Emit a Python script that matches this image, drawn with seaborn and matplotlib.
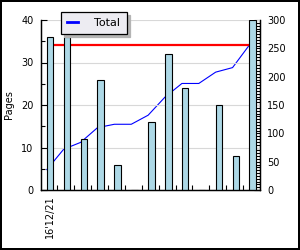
import numpy as np
import pandas as pd
import matplotlib
matplotlib.use("Agg")
import matplotlib.pyplot as plt
from matplotlib.lines import Line2D
from matplotlib.ticker import MultipleLocator
import seaborn as sns

# ---- data ----
tick_labels = ["16'12/21", "", "", "", "", "", "", "", "", "", "", "", ""]
pages = [36, 36, 12, 26, 6, 0, 16, 32, 24, 0, 20, 8, 40]
series_name = "Total"
y_label = "Pages"

plt.rcParams["font.family"] = ["DejaVu Sans"]
plt.rcParams["font.size"] = 7

n = len(pages)
idx = np.arange(n)
cum = np.cumsum(pages)
total = cum[-1]
df = pd.DataFrame({"idx": idx, "pages": pages})

W, H = 300, 250
fig = plt.figure(figsize=(3, 2.5), dpi=100, linewidth=1.5, edgecolor="black")
L, R, T, B = 40.5, 260, 20, 190
ax = fig.add_axes([L / W, 1 - B / H, (R - L) / W, (B - T) / H])
ax2 = ax.twinx()

# bars on primary axis
sns.barplot(data=df, x="idx", y="pages", ax=ax, color="#ADD8E6", saturation=1,
            edgecolor="black", linewidth=0.8, width=0.39)

# cumulative line + total line on secondary axis
bw = 0.39
ax2.plot(idx - bw / 2, cum, color="blue", lw=0.8)
ax2.hlines(total, 0, n - 1, color="red", lw=1.6)

ax.set_zorder(2)
ax2.set_zorder(1)
ax.patch.set_visible(False)

ax.set_xlim(-0.57, n - 0.57)
ax.set_ylim(0, 40)
ax2.set_ylim(0, 300)

ax.set_xticks(idx)
ax.set_xticklabels(tick_labels, rotation=90, fontsize=7)
ax.set_xticks(idx[:-1] + 0.43, minor=True)
ax.tick_params(axis="x", which="major", length=0, pad=4)
ax.tick_params(axis="x", which="minor", direction="in", length=3.5, width=0.8)
ax.set_xlabel("")

ax.yaxis.set_major_locator(MultipleLocator(10))
ax.yaxis.set_minor_locator(MultipleLocator(5))
ax.tick_params(axis="y", which="both", direction="in", width=0.8, pad=5, labelsize=7)
ax.tick_params(axis="y", which="major", length=4)
ax.tick_params(axis="y", which="minor", length=3)

ax2.yaxis.set_major_locator(MultipleLocator(50))
ax2.yaxis.set_minor_locator(MultipleLocator(5))
ax2.tick_params(axis="y", which="both", direction="in", width=0.8, pad=5, labelsize=7)
ax2.tick_params(axis="y", which="major", length=4)
ax2.tick_params(axis="y", which="minor", length=3)

ax.set_ylabel(y_label, fontsize=7)
ax.yaxis.set_label_coords(-0.123, 0.5)

ax.yaxis.grid(True, color="#d8d8d8", lw=0.8)
ax.xaxis.grid(False)
ax.set_axisbelow(True)

for a in (ax, ax2):
    a.spines["top"].set_visible(False)
    for s in ("left", "right", "bottom"):
        a.spines[s].set_linewidth(0.9)
        a.spines[s].set_color("black")

handle = Line2D([0], [0], color="blue", lw=2)
leg = ax.legend(handles=[handle], labels=[series_name], loc="upper left",
                bbox_to_anchor=(60.5 / W, 1 - 12 / H), bbox_transform=fig.transFigure,
                frameon=True, fancybox=False, edgecolor="black", facecolor="#EDECF2",
                framealpha=1, shadow={"color": "#b4b4b4", "alpha": 1, "ox": 2.3, "oy": -2.3},
                borderaxespad=0, handlelength=1.0, handletextpad=1.5,
                borderpad=0.55, fontsize=8)
leg.get_frame().set_linewidth(0.9)

fig.savefig("out.png", dpi=100)
